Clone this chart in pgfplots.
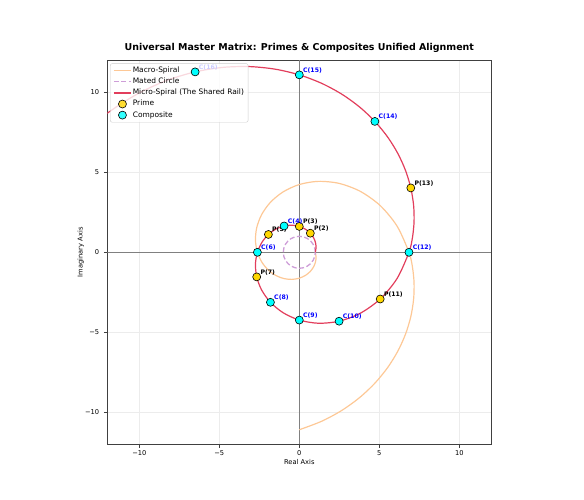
\documentclass[border=0pt]{standalone}
\usepackage{fontspec}
\setmainfont{DejaVu Sans}
\usepackage{pgfplots}
\pgfplotsset{compat=1.18}
\usepackage{pgfplotstable}

\definecolor{macro}{RGB}{253,200,150}
\definecolor{mated}{RGB}{206,158,216}
\definecolor{micro}{RGB}{226,62,92}
\definecolor{primefill}{RGB}{255,215,0}
\definecolor{compfill}{RGB}{0,255,255}
\definecolor{gridgrey}{RGB}{236,236,236}
\definecolor{labelblue}{RGB}{0,0,255}

% Golden spiral r = phi^(2 theta/pi): 15 degree steps, 7.5 degree steps on the outer turn
\pgfplotstableread{
x y
1.0000 0.0000
1.0466 0.2804
1.0167 0.5870
0.8995 0.8995
0.6891 1.1936
0.3865 1.4425
0.0000 1.6180
-0.4537 1.6934
-0.9498 1.6451
-1.4553 1.4553
-1.9313 1.1150
-2.3340 0.6254
-2.6180 0.0000
-2.7400 -0.7342
-2.6617 -1.5368
-2.3548 -2.3548
-1.8041 -3.1249
-1.0119 -3.7764
0.0000 -4.2361
1.1879 -4.4334
2.4865 -4.3068
3.8102 -3.8102
5.0562 -2.9192
6.1104 -1.6373
6.8541 0.0000
7.0735 0.9313
7.1734 1.9221
7.1419 2.9582
6.9686 4.0233
6.6450 5.0989
6.1650 6.1650
5.5247 7.1999
4.7233 8.1810
3.7629 9.0846
2.6492 9.8869
1.3907 10.5632
0.0000 11.0902
-1.5068 11.4451
-3.1100 11.6068
-4.7865 11.5558
-6.5098 11.2754
-8.2501 10.7517
-9.9751 9.9751
-11.6497 8.9391
-13.2372 7.6425
-15.9972 4.2865
}\microspiral

% Clockwise counterpart of the same spiral
\pgfplotstableread{
x y
1.0000 0.0000
1.0466 -0.2804
1.0167 -0.5870
0.8995 -0.8995
0.6891 -1.1936
0.3865 -1.4425
0.0000 -1.6180
-0.4537 -1.6934
-0.9498 -1.6451
-1.4553 -1.4553
-1.9313 -1.1150
-2.3340 -0.6254
-2.6180 0.0000
-2.7400 0.7342
-2.6617 1.5368
-2.3548 2.3548
-1.8041 3.1249
-1.0119 3.7764
0.0000 4.2361
1.1879 4.4334
2.4865 4.3068
3.8102 3.8102
5.0562 2.9192
6.1104 1.6373
6.8541 0.0000
7.0735 -0.9313
7.1734 -1.9221
7.1419 -2.9582
6.9686 -4.0233
6.6450 -5.0989
6.1650 -6.1650
5.5247 -7.1999
4.7233 -8.1810
3.7629 -9.0846
2.6492 -9.8869
1.3907 -10.5632
0.0000 -11.0902
}\macrospiral

% Unit circle
\pgfplotstableread{
x y
1.0000 0.0000
0.9659 0.2588
0.8660 0.5000
0.7071 0.7071
0.5000 0.8660
0.2588 0.9659
0.0000 1.0000
-0.2588 0.9659
-0.5000 0.8660
-0.7071 0.7071
-0.8660 0.5000
-0.9659 0.2588
-1.0000 0.0000
-0.9659 -0.2588
-0.8660 -0.5000
-0.7071 -0.7071
-0.5000 -0.8660
-0.2588 -0.9659
0.0000 -1.0000
0.2588 -0.9659
0.5000 -0.8660
0.7071 -0.7071
0.8660 -0.5000
0.9659 -0.2588
1.0000 0.0000
}\matedcircle

\pgfplotstableread{
x y lab
0.6891 1.1936 P(2)
0.0000 1.6180 P(3)
-1.9313 1.1150 P(5)
-2.6617 -1.5368 P(7)
5.0562 -2.9192 P(11)
6.9686 4.0233 P(13)
}\primes

\pgfplotstableread{
x y lab
-0.9498 1.6451 C(4)
-2.6180 0.0000 C(6)
-1.8041 -3.1249 C(8)
0.0000 -4.2361 C(9)
2.4865 -4.3068 C(10)
6.8541 0.0000 C(12)
4.7233 8.1810 C(14)
0.0000 11.0902 C(15)
-6.5098 11.2754 C(16)
}\composites

\pgfplotstableread{
x y
-6.5098 11.2754
}\lastcomposite

\pgfplotsset{
  spiralaxis/.style={
    scale only axis, width=384bp, height=384bp,
    xmin=-12, xmax=12, ymin=-12, ymax=12,
  },
  lineentry/.style={legend image code/.code={\draw[##1] (-1.5bp,0bp) -- (15.5bp,0bp);}},
  markentry/.style={legend image code/.code={\draw[mark repeat=2,mark phase=2,##1] plot coordinates {(-1.5bp,0bp) (7bp,0bp) (15.5bp,0bp)};}},
  pointlabel/.style={
    nodes near coords, point meta=explicit symbolic,
    nodes near coords style={anchor=base west, inner sep=0pt, xshift=3.5bp, yshift=2.7bp,
      font=\bfseries\fontsize{6.2}{7}\selectfont, text=#1},
  },
}

\begin{document}
\begin{tikzpicture}
\path[use as bounding box] (-107.3bp,-55.7bp) rectangle (476.7bp,444.3bp);
\begin{axis}[
  spiralaxis,
  axis line style={black!75, line width=0.8bp},
  grid=major, grid style={gridgrey, line width=0.6bp},
  xtick={-10,-5,0,5,10}, xticklabels={−10,−5,0,5,10},
  ytick={-10,-5,0,5,10}, yticklabels={−10,−5,0,5,10},
  tick align=outside, tick pos=left, major tick length=3.5bp,
  tick style={black!75, line width=0.8bp},
  tick label style={font=\fontsize{6.7}{8}\selectfont},
  xticklabel style={inner sep=0pt, yshift=-2.8bp},
  yticklabel style={inner sep=0pt, xshift=-4.5bp},
  title={Universal Master Matrix: Primes \& Composites Unified Alignment},
  title style={at={(rel axis cs:0.5,1.0091)}, anchor=base, inner sep=0pt,
    font=\bfseries\fontsize{9.5}{11}\selectfont},
  xlabel={Real Axis},
  xlabel style={at={(rel axis cs:0.5,-0.0531)}, anchor=base, inner sep=0pt,
    font=\fontsize{6.7}{8}\selectfont},
  ylabel={Imaginary Axis},
  ylabel style={at={(rel axis cs:-0.0693,0.5)}, anchor=center, inner sep=0pt,
    font=\fontsize{6.7}{8}\selectfont},
  legend cell align=left,
  legend style={at={(rel axis cs:0.0073,0.992)}, anchor=north west,
    draw=black!20, rounded corners=2bp, fill=white, fill opacity=0.8, text opacity=1,
    font=\fontsize{7.5}{8}\selectfont, inner xsep=3bp, inner ysep=2.4bp,
    row sep=1.6bp,
    nodes={text height=5.5bp, text depth=1.6bp, inner sep=1.2bp}},
]
% reference lines through the origin
\addplot[forget plot, black!50, line width=0.8bp] coordinates {(0,-12) (0,12)};
\addplot[forget plot, black!50, line width=0.8bp] coordinates {(-12,0) (12,0)};

\addplot[macro, line width=1.2bp, smooth, lineentry] table {\macrospiral};
\addlegendentry{Macro-Spiral}
\addplot[mated, line width=1.3bp, dash pattern=on 5bp off 2.5bp, smooth, lineentry] table {\matedcircle};
\addlegendentry{Mated Circle}
\addplot[draw=micro, line width=1.2bp, smooth, lineentry] table {\microspiral};
\addlegendentry{Micro-Spiral (The Shared Rail)}
\addplot[only marks, mark=*, mark size=4bp,
  mark options={draw=black, fill=primefill, line width=0.6bp},
  markentry, pointlabel=black] table[x=x, y=y, meta=lab] {\primes};
\addlegendentry{Prime}
\addplot[only marks, mark=*, mark size=4bp,
  mark options={draw=black, fill=compfill, line width=0.6bp},
  markentry, pointlabel=labelblue] table[x=x, y=y, meta=lab] {\composites};
\addlegendentry{Composite}
\end{axis}

% the outermost composite sits above the legend box
\begin{axis}[spiralaxis, hide axis]
\addplot[only marks, mark=*, mark size=4bp,
  mark options={draw=black, fill=compfill, line width=0.6bp}] table {\lastcomposite};
\end{axis}
\end{tikzpicture}
\end{document}
